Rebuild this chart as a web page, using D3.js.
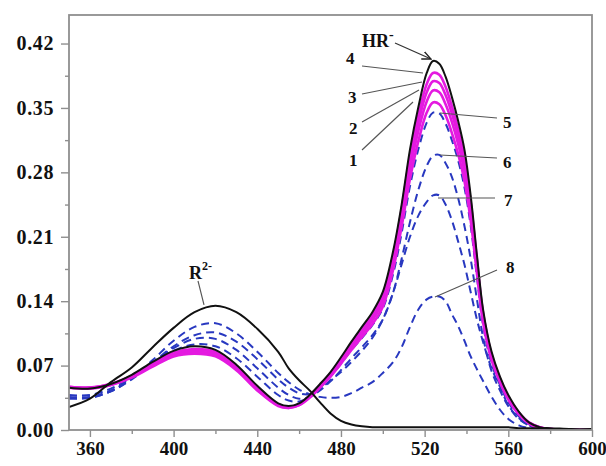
<!DOCTYPE html>
<html><head><meta charset="utf-8">
<script src="https://cdn.jsdelivr.net/npm/d3@7"></script>
<style>body{margin:0;background:#fff}svg{display:block}</style>
</head><body>
<script>
// wavelength grid (nm)
const wavelengths = [350,360,370,380,390,400,410,420,430,440,450,455,460,465,470,475,480,485,490,495,500,505,509,513,517,521,524,527,530,533,536,539,542,545,548,552,556,560,565,570,575,580,590,600];
// absorbance series
const seriesR2 = [0.025,0.034,0.052,0.068,0.090,0.111,0.128,0.135,0.128,0.110,0.085,0.067,0.054,0.043,0.030,0.018,0.010,0.006,0.004,0.003,0.003,0.003,0.003,0.003,0.003,0.003,0.003,0.003,0.003,0.003,0.003,0.003,0.003,0.003,0.003,0.003,0.003,0.003,0.002,0.002,0.002,0.002,0.001,0.001];
const seriesHR = [0.046,0.045,0.050,0.060,0.074,0.086,0.091,0.087,0.071,0.048,0.029,0.026,0.029,0.038,0.050,0.063,0.079,0.096,0.112,0.128,0.150,0.195,0.245,0.305,0.351,0.388,0.401,0.398,0.384,0.362,0.336,0.305,0.255,0.190,0.130,0.085,0.058,0.038,0.020,0.008,0.003,0.001,0,0];
const series4 = [0.047,0.046,0.050,0.059,0.072,0.084,0.088,0.085,0.069,0.046,0.028,0.025,0.028,0.037,0.049,0.062,0.077,0.094,0.109,0.125,0.146,0.190,0.240,0.298,0.342,0.376,0.388,0.386,0.373,0.352,0.327,0.296,0.248,0.185,0.126,0.082,0.056,0.036,0.019,0.008,0.003,0.001,0,0];
const series3 = [0.047,0.046,0.050,0.058,0.071,0.083,0.087,0.084,0.068,0.045,0.027,0.025,0.028,0.037,0.048,0.061,0.076,0.092,0.107,0.122,0.143,0.186,0.235,0.291,0.334,0.367,0.379,0.377,0.364,0.344,0.319,0.289,0.242,0.181,0.123,0.080,0.055,0.035,0.018,0.008,0.003,0.001,0,0];
const series2 = [0.046,0.046,0.049,0.058,0.070,0.082,0.085,0.082,0.067,0.044,0.027,0.024,0.027,0.036,0.047,0.060,0.074,0.090,0.104,0.119,0.139,0.181,0.229,0.283,0.325,0.357,0.369,0.367,0.354,0.335,0.311,0.281,0.236,0.176,0.120,0.078,0.054,0.034,0.018,0.007,0.002,0.001,0,0];
const series1 = [0.046,0.045,0.049,0.057,0.069,0.080,0.083,0.080,0.065,0.043,0.026,0.024,0.027,0.035,0.046,0.058,0.072,0.087,0.101,0.115,0.134,0.175,0.221,0.273,0.314,0.345,0.356,0.354,0.342,0.323,0.300,0.271,0.228,0.170,0.116,0.076,0.052,0.033,0.017,0.007,0.002,0.001,0,0];
const series5 = [0.038,0.038,0.045,0.057,0.072,0.086,0.093,0.091,0.078,0.058,0.038,0.032,0.031,0.036,0.046,0.058,0.072,0.087,0.100,0.114,0.132,0.170,0.214,0.265,0.305,0.334,0.345,0.344,0.333,0.315,0.293,0.264,0.222,0.166,0.113,0.072,0.049,0.030,0.015,0.006,0.002,0.001,0,0];
const series6 = [0.036,0.036,0.043,0.056,0.073,0.089,0.099,0.099,0.087,0.067,0.046,0.038,0.034,0.036,0.043,0.053,0.065,0.078,0.090,0.103,0.120,0.150,0.186,0.226,0.261,0.287,0.298,0.299,0.290,0.275,0.252,0.222,0.186,0.142,0.100,0.064,0.043,0.026,0.012,0.005,0.002,0.001,0,0];
const series7 = [0.035,0.035,0.042,0.055,0.073,0.091,0.103,0.106,0.096,0.077,0.055,0.046,0.040,0.039,0.045,0.054,0.063,0.074,0.086,0.100,0.120,0.150,0.180,0.210,0.233,0.248,0.255,0.255,0.245,0.228,0.205,0.180,0.150,0.120,0.095,0.067,0.047,0.027,0.013,0.005,0.002,0.001,0,0];
const series8 = [0.034,0.035,0.042,0.056,0.076,0.097,0.112,0.116,0.105,0.085,0.062,0.052,0.044,0.039,0.036,0.035,0.036,0.040,0.046,0.052,0.062,0.074,0.090,0.112,0.131,0.142,0.145,0.145,0.140,0.126,0.113,0.097,0.080,0.066,0.053,0.036,0.022,0.012,0.005,0.002,0.001,0,0,0];
// axis ticks
const xTicks = [360,400,440,480,520,560,600];
const yTicks = [0.00,0.07,0.14,0.21,0.28,0.35,0.42];
const yTickLabels = ["0.00","0.07","0.14","0.21","0.28","0.35","0.42"];

const W = 606, H = 466;
const svg = d3.select("body").append("svg").attr("width", W).attr("height", H);
const m = {l:69, r:592, t:15, b:430};
const x = d3.scaleLinear().domain([350,600]).range([m.l, m.r]);
const y = d3.scaleLinear().domain([0,0.451]).range([m.b, m.t]);

const line = d3.line().x(d=>x(d[0])).y(d=>y(d[1])).curve(d3.curveCatmullRom.alpha(0.5));
const pts = s => wavelengths.map((w,i)=>[w,s[i]]);

const defs = svg.append("defs");
defs.append("clipPath").attr("id","c").append("rect")
  .attr("x",m.l).attr("y",m.t).attr("width",m.r-m.l).attr("height",m.b-m.t);
const g = svg.append("g").attr("clip-path","url(#c)");

const blue = "#2838c0", mag = "#e41ae0";
[series8, series7, series6, series5].forEach(s=>{
  g.append("path").attr("d", line(pts(s))).attr("fill","none").attr("stroke",blue)
   .attr("stroke-width",2).attr("stroke-dasharray","8,5");
});
[series1, series2, series3, series4].forEach(s=>{
  g.append("path").attr("d", line(pts(s))).attr("fill","none").attr("stroke",mag)
   .attr("stroke-width",2.6);
});
g.append("path").attr("d", line(pts(seriesHR))).attr("fill","none").attr("stroke","#111").attr("stroke-width",2);
g.append("path").attr("d", line(pts(seriesR2))).attr("fill","none").attr("stroke","#111").attr("stroke-width",2);

// frame
const axisCol = "#8f8f8f";
svg.append("rect").attr("x",m.l).attr("y",m.t).attr("width",m.r-m.l).attr("height",m.b-m.t)
  .attr("fill","none").attr("stroke",axisCol).attr("stroke-width",1.8);

// axes
const font = "'Liberation Serif','Times New Roman',serif";
const yAxis = d3.axisLeft(y).tickValues(yTicks).tickFormat((d,i)=>yTickLabels[i]).tickSize(8).tickPadding(7);
svg.append("g").attr("class","ya").attr("transform",`translate(${m.l},0)`).call(yAxis);
const yMinor = d3.axisLeft(y).tickValues(yTicks.slice(0,-1).map(v=>v+0.035)).tickFormat("").tickSize(4);
svg.append("g").attr("transform",`translate(${m.l},0)`).call(yMinor);
const xAxis = d3.axisBottom(x).tickValues(xTicks).tickSize(7).tickPadding(5);
svg.append("g").attr("class","xa").attr("transform",`translate(0,${m.b})`).call(xAxis);
const xMinor = d3.axisBottom(x).tickValues([380,420,460,500,540,580]).tickFormat("").tickSize(4);
svg.append("g").attr("transform",`translate(0,${m.b})`).call(xMinor);
svg.selectAll(".domain").remove();
svg.selectAll(".tick line").attr("stroke",axisCol).attr("stroke-width",1.4);
svg.selectAll(".tick text").attr("font-family",font).attr("font-weight","bold").attr("fill","#111");
svg.selectAll(".xa .tick text").attr("font-size",19);
svg.selectAll(".ya .tick text").attr("font-size",20).attr("letter-spacing",0.6);

// annotations
const ann = svg.append("g").attr("font-family",font).attr("font-weight","bold").attr("fill","#111").attr("font-size",17);
const leader = (x1,y1,x2,y2)=>svg.append("line").attr("x1",x1).attr("y1",y1).attr("x2",x2).attr("y2",y2)
  .attr("stroke","#555").attr("stroke-width",1.1);
// HR-
const hr = ann.append("text").attr("x",362).attr("y",47).attr("font-size",18);
hr.append("tspan").text("HR");
hr.append("tspan").attr("dy",-8).attr("font-size",14).text("-");
defs.append("marker").attr("id","ar").attr("viewBox","0 0 10 10").attr("refX",9).attr("refY",5)
  .attr("markerWidth",9).attr("markerHeight",9).attr("orient","auto")
  .append("path").attr("d","M0,1 L9,5 L0,9").attr("fill","none").attr("stroke","#222").attr("stroke-width",1.3);
svg.append("line").attr("x1",395).attr("y1",43).attr("x2",x(524)-2).attr("y2",y(0.401)-2)
  .attr("stroke","#333").attr("stroke-width",1.1).attr("marker-end","url(#ar)");
// numbers
const nums = [
  ["4",346,64, 362,66, 423,73],
  ["3",348,103, 362,94, 422,82],
  ["2",349,134, 362,122, 419,90],
  ["1",349,166, 362,150, 413,102],
  ["5",503,128, 497,118, 440,113],
  ["6",503,168, 497,158, 440,155],
  ["7",504,206, 495,198, 438,198],
  ["8",506,273, 497,270, 435,297]
];
nums.forEach(n=>{ ann.append("text").attr("x",n[1]).attr("y",n[2]).text(n[0]); leader(n[3],n[4],n[5],n[6]); });
// R2-
const r2 = ann.append("text").attr("x",189).attr("y",279).attr("font-size",18);
r2.append("tspan").text("R");
r2.append("tspan").attr("dy",-9).attr("font-size",12).text("2-");
leader(198,281,204,y(0.135)-1);
</script>
</body></html>
